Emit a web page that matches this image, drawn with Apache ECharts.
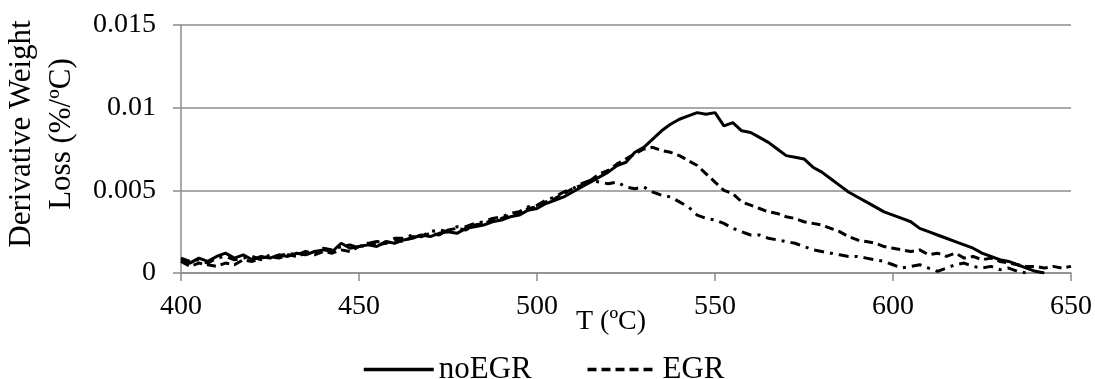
<!DOCTYPE html>
<html>
<head>
<meta charset="utf-8">
<script src="https://cdn.jsdelivr.net/npm/echarts@6/dist/echarts.min.js"></script>
<style>
html,body{margin:0;padding:0;background:#fff;}
#chart{width:1095px;height:379px;}
</style>
</head>
<body>
<div id="chart"></div>
<script>
// Temperature grid (°C)
var temps = [];
for (var t = 400; t <= 650; t += 2.5) temps.push(t);

var noEGR = [
0.0008,0.0006,0.0009,0.0007,0.0010,0.0012,0.0009,0.0011,0.0008,0.0010,
0.0009,0.0011,0.0010,0.0012,0.0011,0.0013,0.0014,0.0013,0.0018,0.0015,
0.0016,0.0017,0.0016,0.0019,0.0018,0.0020,0.0021,0.0023,0.0022,0.0024,
0.0025,0.0024,0.0027,0.0028,0.0029,0.0031,0.0032,0.0034,0.0035,0.0038,
0.0039,0.0042,0.0044,0.0046,0.0049,0.0052,0.0055,0.0058,0.0061,0.0065,
0.0067,0.0073,0.0076,0.0081,0.0086,0.0090,0.0093,0.0095,0.0097,0.0096,
0.0097,0.0089,0.0091,0.0086,0.0085,0.0082,0.0079,0.0075,0.0071,0.0070,
0.0069,0.0064,0.0061,0.0057,0.0053,0.0049,0.0046,0.0043,0.0040,0.0037,
0.0035,0.0033,0.0031,0.0027,0.0025,0.0023,0.0021,0.0019,0.0017,0.0015,
0.0012,0.0010,0.0008,0.0007,0.0005,0.0003,0.0001,0.0000,null,null,null
];

var EGR = [
0.0007,0.0004,0.0006,0.0005,0.0004,0.0006,0.0005,0.0008,0.0007,0.0009,
0.0010,0.0009,0.0011,0.0010,0.0012,0.0011,0.0013,0.0012,0.0014,0.0013,
0.0016,0.0018,0.0017,0.0018,0.0020,0.0019,0.0022,0.0022,0.0024,0.0023,
0.0026,0.0027,0.0026,0.0029,0.0030,0.0032,0.0033,0.0035,0.0036,0.0039,
0.0040,0.0043,0.0045,0.0048,0.0051,0.0053,0.0056,0.0060,0.0062,0.0066,
0.0069,0.0072,0.0075,0.0076,0.0074,0.0073,0.0071,0.0068,0.0065,0.0060,
0.0055,0.0050,0.0048,0.0043,0.0041,0.0039,0.0037,0.0036,0.0034,0.0033,
0.0031,0.0030,0.0029,0.0027,0.0025,0.0022,0.0020,0.0019,0.0018,0.0016,
0.0015,0.0014,0.0013,0.0014,0.0011,0.0012,0.0010,0.0012,0.0009,0.0010,
0.0008,0.0009,0.0007,0.0006,0.0005,0.0004,0.0004,0.0003,0.0004,0.0003,
0.0004
];

var EGR2 = [
0.0009,0.0007,0.0008,0.0006,0.0009,0.0010,0.0008,0.0009,0.0010,0.0008,
0.0011,0.0010,0.0012,0.0011,0.0013,0.0012,0.0015,0.0014,0.0016,0.0017,
0.0015,0.0018,0.0019,0.0018,0.0021,0.0021,0.0023,0.0022,0.0025,0.0026,
0.0025,0.0028,0.0028,0.0030,0.0031,0.0033,0.0034,0.0036,0.0037,0.0040,
0.0041,0.0044,0.0046,0.0049,0.0051,0.0054,0.0056,0.0055,0.0054,0.0055,
0.0052,0.0051,0.0052,0.0049,0.0047,0.0046,0.0043,0.0040,0.0035,0.0033,
0.0032,0.0030,0.0027,0.0025,0.0023,0.0023,0.0021,0.0020,0.0019,0.0018,
0.0016,0.0014,0.0013,0.0012,0.0011,0.0010,0.0010,0.0009,0.0008,0.0007,
0.0005,0.0003,0.0004,0.0005,0.0003,0.0001,0.0003,0.0005,0.0006,0.0004,
0.0003,0.0004,0.0002,0.0003,0.0001,0.0000,null,null,null,null,
null
];

var xTicks = [400, 450, 500, 550, 600, 650];
var yTicks = [0, 0.005, 0.01, 0.015];

function pairs(vals) {
  var out = [];
  for (var i = 0; i < temps.length; i++) out.push([temps[i], vals[i] === undefined ? null : vals[i]]);
  return out;
}

var FONT = '"Liberation Serif", "Times New Roman", serif';
var gridColor = '#8c8c8c';

var chart = echarts.init(document.getElementById('chart'));
chart.setOption({
  animation: false,
  textStyle: { fontFamily: FONT, color: '#000' },
  grid: { left: 181, right: 24, top: 25, bottom: 106, containLabel: false },
  legend: {
    data: ['noEGR', 'EGR'],
    left: 357,
    top: 349,
    itemWidth: 70,
    itemHeight: 14,
    itemGap: 54,
    itemStyle: { opacity: 0, borderWidth: 0 },
    lineStyle: { width: 3.5 },
    textStyle: { fontFamily: FONT, fontSize: 31, color: '#000' }
  },
  xAxis: {
    type: 'value',
    min: 400, max: 650, interval: 50,
    axisLine: { show: true, lineStyle: { color: gridColor, width: 1.5 } },
    axisTick: { show: true, length: 8, lineStyle: { color: gridColor, width: 1.5 } },
    axisLabel: { margin: 20, fontSize: 28, fontFamily: FONT, color: '#000' },
    splitLine: { show: false }
  },
  yAxis: {
    type: 'value',
    min: 0, max: 0.015, interval: 0.005,
    axisLine: { show: true, lineStyle: { color: gridColor, width: 1.5 } },
    axisTick: { show: true, length: 8, lineStyle: { color: gridColor, width: 1.5 } },
    axisLabel: { margin: 25, fontSize: 28, fontFamily: FONT, color: '#000',
      formatter: function (v) { return String(+v.toFixed(3)); } },
    splitLine: { show: true, lineStyle: { color: gridColor, width: 1.5 } }
  },
  graphic: [
    {
      type: 'text',
      x: 42, y: 134,
      rotation: Math.PI / 2,
      style: {
        text: 'Derivative Weight\nLoss (%/ºC)',
        font: '31px ' + FONT,
        fill: '#000',
        align: 'center',
        verticalAlign: 'middle',
        lineHeight: 40
      }
    },
    {
      type: 'text',
      x: 576, y: 308,
      style: {
        text: 'T (ºC)',
        font: '28px ' + FONT,
        fill: '#000',
        align: 'left',
        verticalAlign: 'top'
      }
    }
  ],
  series: [
    {
      name: 'noEGR', type: 'line', data: pairs(noEGR), symbol: 'none',
      lineStyle: { color: '#000', width: 3, type: 'solid' }, itemStyle: { color: '#000' }, z: 3
    },
    {
      name: 'EGR', type: 'line', data: pairs(EGR), symbol: 'none',
      lineStyle: { color: '#000', width: 3, type: [9, 5] }, itemStyle: { color: '#000' }, z: 2
    },
    {
      name: 'EGR (dash-dot)', type: 'line', data: pairs(EGR2), symbol: 'none',
      lineStyle: { color: '#000', width: 3, type: [10, 6, 3, 6] }, itemStyle: { color: '#000' }, z: 1
    }
  ]
});
</script>
</body>
</html>
